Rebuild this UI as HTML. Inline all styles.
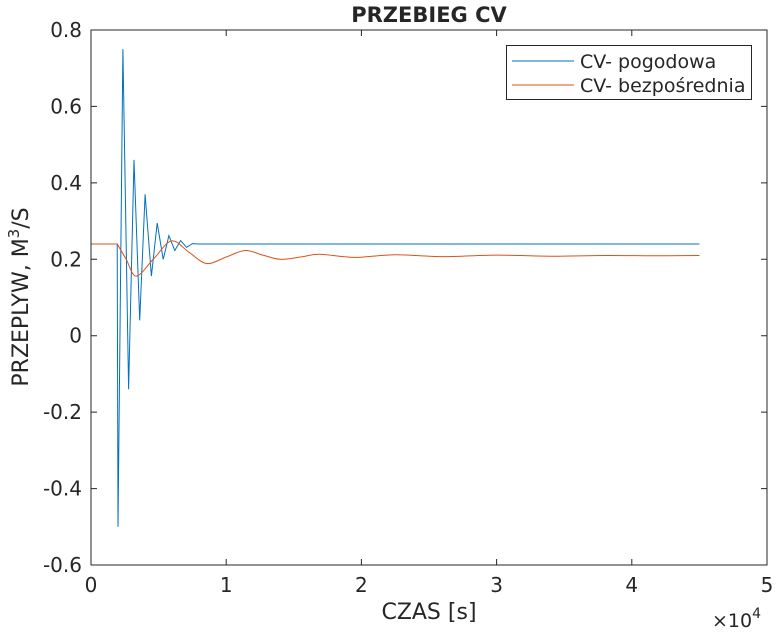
<!DOCTYPE html>
<html><head><meta charset="utf-8"><style>
body{margin:0;background:#fff;}
svg text{font-family:"DejaVu Sans","Liberation Sans",sans-serif;fill:#262626;}
</style></head><body>
<svg id="chart" width="776" height="630">
<rect x="0" y="0" width="776" height="630" fill="#fff"/>
<text x="429" y="22" text-anchor="middle" font-size="21" font-weight="bold" fill="#000">PRZEBIEG CV</text>
<g id="axes"></g>
<g id="series"></g>
<rect x="91" y="30" width="676" height="535" fill="none" stroke="#262626" stroke-width="1"/>
<text x="429" y="619" text-anchor="middle" font-size="22">CZAS [s]</text>
<text x="712" y="627" font-size="19">×10<tspan dy="-9" font-size="14">4</tspan></text>
<text transform="translate(28,297) rotate(-90)" text-anchor="middle" font-size="22">PRZEPLYW, M<tspan dy="-9" font-size="15">3</tspan><tspan dy="9">/S</tspan></text>
<g>
<rect x="506.5" y="45.5" width="245" height="54" fill="#fff" stroke="#262626" stroke-width="1"/>
<line x1="512" y1="61" x2="574" y2="61" stroke="#0072BD" stroke-width="1"/>
<text x="580" y="68" font-size="19">CV- pogodowa</text>
<line x1="512" y1="85" x2="574" y2="85" stroke="#D95319" stroke-width="1"/>
<text x="580" y="92" font-size="19">CV- bezpośrednia</text>
</g>
</svg>
<script>
const xTicks=[0,1,2,3,4,5];
const yTicks=[0.8,0.6,0.4,0.2,0,-0.2,-0.4,-0.6];
const yTickLabels=["0.8","0.6","0.4","0.2","0","-0.2","-0.4","-0.6"];
const blueT=[0,0.194,0.2,0.236,0.278,0.318,0.36,0.40,0.447,0.49,0.534,0.576,0.62,0.663,0.707,0.75,0.8,4.5];
const blueV=[0.24,0.24,-0.50,0.75,-0.14,0.46,0.04,0.37,0.156,0.295,0.20,0.262,0.223,0.249,0.231,0.241,0.24,0.24];
const orangeT=[0,0.194,0.26,0.335,0.465,0.596,0.726,0.856,1.0,1.14,1.27,1.40,1.55,1.69,1.95,2.25,2.6,3.0,3.4,3.8,4.2,4.5];
const orangeV=[0.24,0.24,0.20,0.156,0.202,0.248,0.218,0.189,0.206,0.223,0.211,0.200,0.206,0.213,0.205,0.212,0.207,0.211,0.208,0.210,0.209,0.210];
const X0=91,X1=767,Y0=565,Y1=30;
function xs(t){return X0+(t-0)/(5-0)*(X1-X0);}
function ys(v){return Y0-(v-(-0.6))/(0.8-(-0.6))*(Y0-Y1);}
const NS="http://www.w3.org/2000/svg";
const axes=document.getElementById('axes');
xTicks.forEach(t=>{
  const x=xs(t);
  const l=document.createElementNS(NS,'path');
  l.setAttribute('d',`M${x},${Y0}v-6M${x},${Y1}v6`);
  l.setAttribute('stroke','#262626');
  
  
  axes.appendChild(l);
  const tx=document.createElementNS(NS,'text');
  tx.setAttribute('x',x);tx.setAttribute('y',592);tx.setAttribute('text-anchor','middle');tx.setAttribute('font-size','20');
  tx.textContent=String(t);
  
  
  axes.appendChild(tx);
});
yTicks.forEach((v,i)=>{
  const y=ys(v);
  const l=document.createElementNS(NS,'path');
  l.setAttribute('d',`M${X0},${y}h6M${X1},${y}h-6`);
  l.setAttribute('stroke','#262626');
  
  
  axes.appendChild(l);
  const tx=document.createElementNS(NS,'text');
  tx.setAttribute('x',82);tx.setAttribute('y',y+7);tx.setAttribute('text-anchor','end');tx.setAttribute('font-size','20');
  tx.textContent=yTickLabels[i];
  
  
  axes.appendChild(tx);
});
const ser=document.getElementById('series');
function linePath(T,V){return T.map((t,i)=>(i?'L':'M')+xs(t).toFixed(1)+','+ys(V[i]).toFixed(1)).join('');}
function smoothPath(T,V){
  const P=T.map((t,i)=>[xs(t),ys(V[i])]);
  let d='M'+P[0][0]+','+P[0][1];
  for(let i=0;i<P.length-1;i++){
    if(i===0){d+='L'+P[1][0]+','+P[1][1];continue;}
    const p0=i===1?P[1]:P[i-1],p1=P[i],p2=P[i+1],p3=P[Math.min(P.length-1,i+2)];
    const c1=[p1[0]+(p2[0]-p0[0])/6,p1[1]+(p2[1]-p0[1])/6];
    const c2=[p2[0]-(p3[0]-p1[0])/6,p2[1]-(p3[1]-p1[1])/6];
    d+=`C${c1[0].toFixed(1)},${c1[1].toFixed(1)} ${c2[0].toFixed(1)},${c2[1].toFixed(1)} ${p2[0].toFixed(1)},${p2[1].toFixed(1)}`;
  }
  return d;
}
const pb=document.createElementNS(NS,'path');
pb.setAttribute('d',linePath(blueT,blueV));
pb.setAttribute('fill','none');pb.setAttribute('stroke','#0072BD');pb.setAttribute('stroke-width','1');


ser.appendChild(pb);
const po=document.createElementNS(NS,'path');
po.setAttribute('d',smoothPath(orangeT,orangeV));
po.setAttribute('fill','none');po.setAttribute('stroke','#D95319');po.setAttribute('stroke-width','1');


ser.appendChild(po);
</script>
</body></html>
